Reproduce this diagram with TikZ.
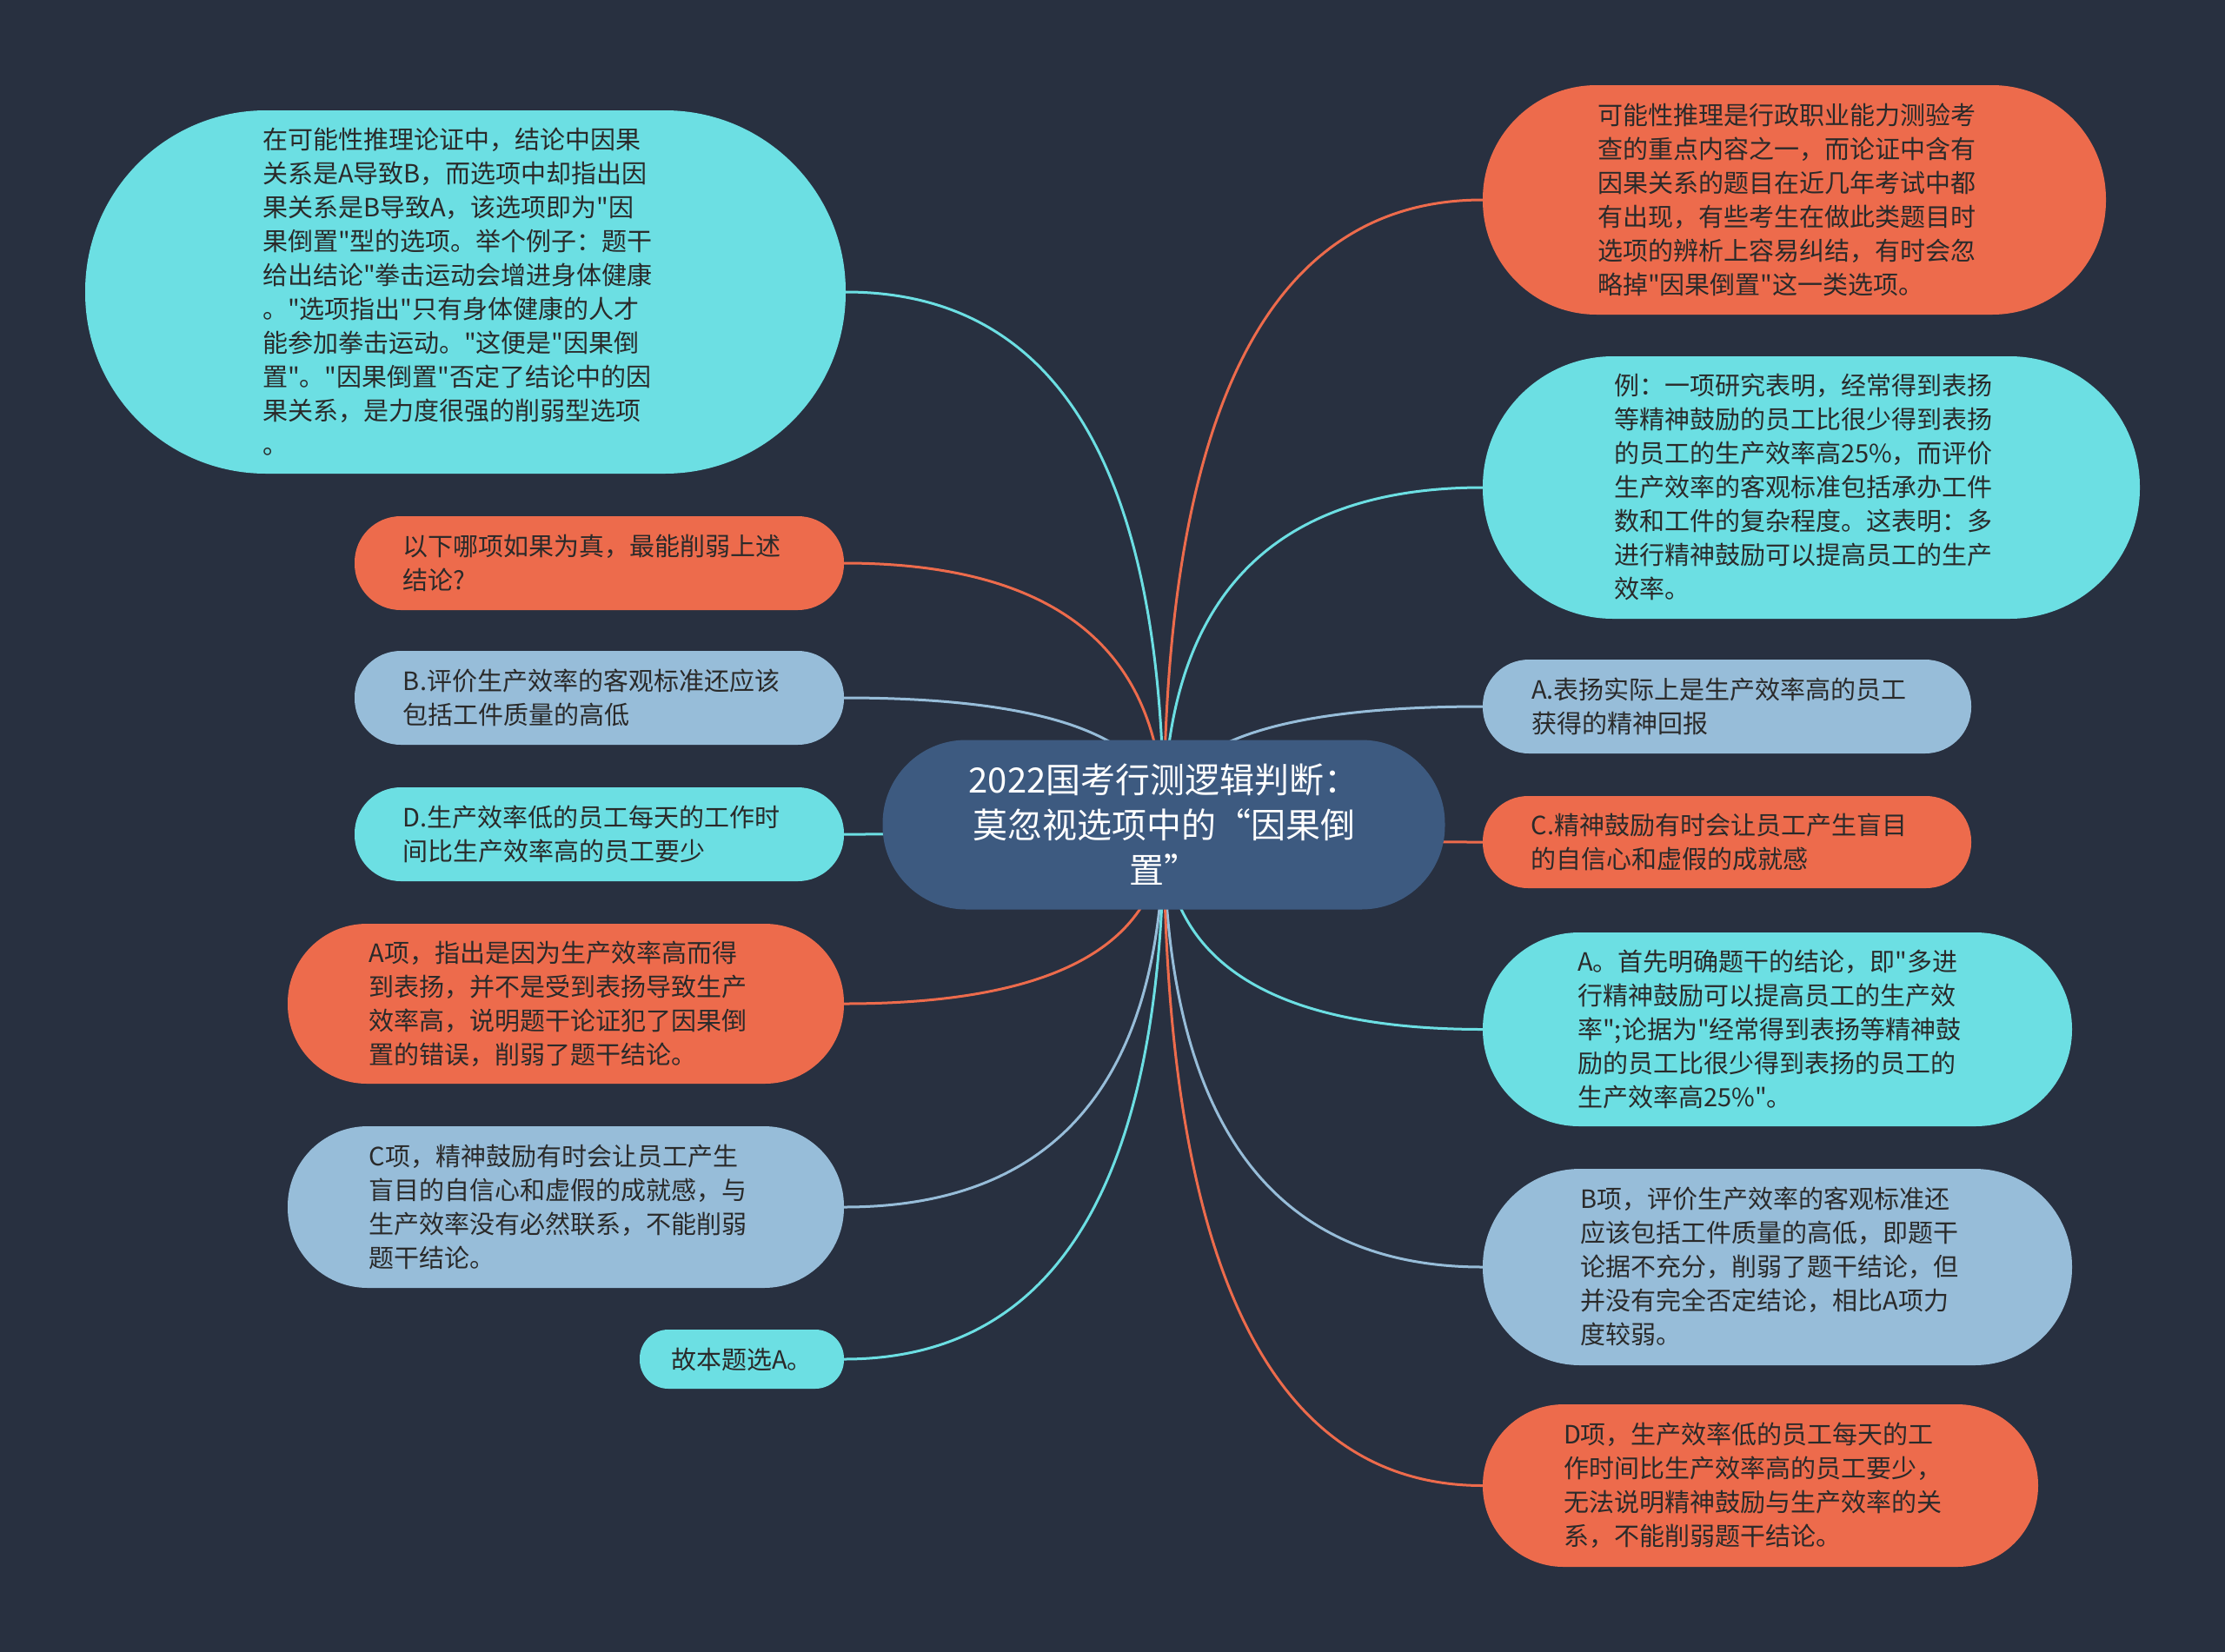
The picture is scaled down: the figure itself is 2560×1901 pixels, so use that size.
\documentclass[tikz,border=0pt]{standalone}
\usepackage{fontspec}
\setmainfont{Noto Sans CJK SC}
\newfontfamily\cjk{Noto Sans CJK SC}[Ligatures=ResetAll]
\usetikzlibrary{calc}
\definecolor{bgc}{HTML}{283040}
\definecolor{cy}{HTML}{6CDFE3}
\definecolor{og}{HTML}{ED6B4C}
\definecolor{lb}{HTML}{97BDD9}
\definecolor{rootc}{HTML}{3D5A80}
\definecolor{txt}{HTML}{2A2A2A}
\pgfdeclarelayer{back}
\pgfdeclarelayer{links}
\pgfsetlayers{back,links,main}
\newcommand\mmlink[3]{%
  \coordinate (mmc) at (root.center |- #1.#2);
  \draw[link,#3] (root.center) .. controls ($(root.center)!0.6667!(mmc)$) and ($(#1.#2)!0.6667!(mmc)$) .. (#1.#2);}
\newcommand\tx[1]{\raisebox{0pt}[\dimexpr\height+6pt\relax][\depth]{\begin{tabular}{@{}l@{\hspace{18pt}}}#1\end{tabular}}}
\begin{document}
\begin{tikzpicture}[x=1pt,y=-1pt,
  kid/.style n args={4}{fill=#1, minimum width=#2pt, minimum height=#3pt,
    rounded corners=#4pt, inner sep=0pt, text=txt,
    font=\cjk\fontsize{29}{39}\selectfont},
  rootbox/.style={fill=rootc, minimum width=647pt, minimum height=195pt,
    rounded corners=96pt, inner sep=0pt, align=center, text=white,
    font=\fontsize{40}{52}\selectfont},
  link/.style={line width=3pt}]
\useasboundingbox (0,0) rectangle (2560,1901);
\begin{pgfonlayer}{back}
\fill[bgc] (0,0) rectangle (2560,1901);
\end{pgfonlayer}

\node[rootbox] (root) at (1339,949) {2022国考行测逻辑判断：\\莫忽视选项中的“因果倒\\置”};

% left
\node[kid={cy}{875}{418}{208}] (L1) at (535.5,336) {\tx{在可能性推理论证中，结论中因果\\关系是A导致B，而选项中却指出因\\果关系是B导致A，该选项即为"因\\果倒置"型的选项。举个例子：题干\\给出结论"拳击运动会增进身体健康\\。"选项指出"只有身体健康的人才\\能参加拳击运动。"这便是"因果倒\\置"。"因果倒置"否定了结论中的因\\果关系，是力度很强的削弱型选项\\。}};
\node[kid={og}{563}{108}{53}] (L2) at (689.5,648) {\tx{以下哪项如果为真，最能削弱上述\\结论?}};
\node[kid={lb}{563}{108}{53}] (L3) at (689.5,803) {\tx{B.评价生产效率的客观标准还应该\\包括工件质量的高低}};
\node[kid={cy}{563}{108}{53}] (L4) at (689.5,960) {\tx{D.生产效率低的员工每天的工作时\\间比生产效率高的员工要少}};
\node[kid={og}{640}{184}{91}] (L5) at (651,1155) {\tx{A项，指出是因为生产效率高而得\\到表扬，并不是受到表扬导致生产\\效率高，说明题干论证犯了因果倒\\置的错误，削弱了题干结论。}};
\node[kid={lb}{640}{186}{92}] (L6) at (651,1389) {\tx{C项，精神鼓励有时会让员工产生\\盲目的自信心和虚假的成就感，与\\生产效率没有必然联系，不能削弱\\题干结论。}};
\node[kid={cy}{235}{68}{33}] (L7) at (853.5,1564) {故本题选A。};

% right
\node[kid={og}{717}{264}{131}] (R1) at (2064.5,230) {\tx{可能性推理是行政职业能力测验考\\查的重点内容之一，而论证中含有\\因果关系的题目在近几年考试中都\\有出现，有些考生在做此类题目时\\选项的辨析上容易纠结，有时会忽\\略掉"因果倒置"这一类选项。}};
\node[kid={cy}{756}{302}{150}] (R2) at (2084,561) {\tx{例：一项研究表明，经常得到表扬\\等精神鼓励的员工比很少得到表扬\\的员工的生产效率高25\%，而评价\\生产效率的客观标准包括承办工件\\数和工件的复杂程度。这表明：多\\进行精神鼓励可以提高员工的生产\\效率。}};
\node[kid={lb}{562}{108}{53}] (R3) at (1987,813) {\tx{A.表扬实际上是生产效率高的员工\\获得的精神回报}};
\node[kid={og}{562}{106}{52}] (R4) at (1987,969) {\tx{C.精神鼓励有时会让员工产生盲目\\的自信心和虚假的成就感}};
\node[kid={cy}{678}{223}{111}] (R5) at (2045,1184.5) {\tx{A。首先明确题干的结论，即"多进\\行精神鼓励可以提高员工的生产效\\率";论据为"经常得到表扬等精神鼓\\励的员工比很少得到表扬的员工的\\生产效率高25\%"。}};
\node[kid={lb}{678}{226}{112}] (R6) at (2045,1458) {\tx{B项，评价生产效率的客观标准还\\应该包括工件质量的高低，即题干\\论据不充分，削弱了题干结论，但\\并没有完全否定结论，相比A项力\\度较弱。}};
\node[kid={og}{639}{187}{93}] (R7) at (2025.5,1709.5) {\tx{D项，生产效率低的员工每天的工\\作时间比生产效率高的员工要少，\\无法说明精神鼓励与生产效率的关\\系，不能削弱题干结论。}};

\begin{pgfonlayer}{links}
\mmlink{L1}{east}{cy}
\mmlink{L2}{east}{og}
\mmlink{L3}{east}{lb}
\mmlink{L4}{east}{cy}
\mmlink{L5}{east}{og}
\mmlink{L6}{east}{lb}
\mmlink{L7}{east}{cy}
\mmlink{R1}{west}{og}
\mmlink{R2}{west}{cy}
\mmlink{R3}{west}{lb}
\mmlink{R4}{west}{og}
\mmlink{R5}{west}{cy}
\mmlink{R6}{west}{lb}
\mmlink{R7}{west}{og}
\end{pgfonlayer}
\end{tikzpicture}
\end{document}
